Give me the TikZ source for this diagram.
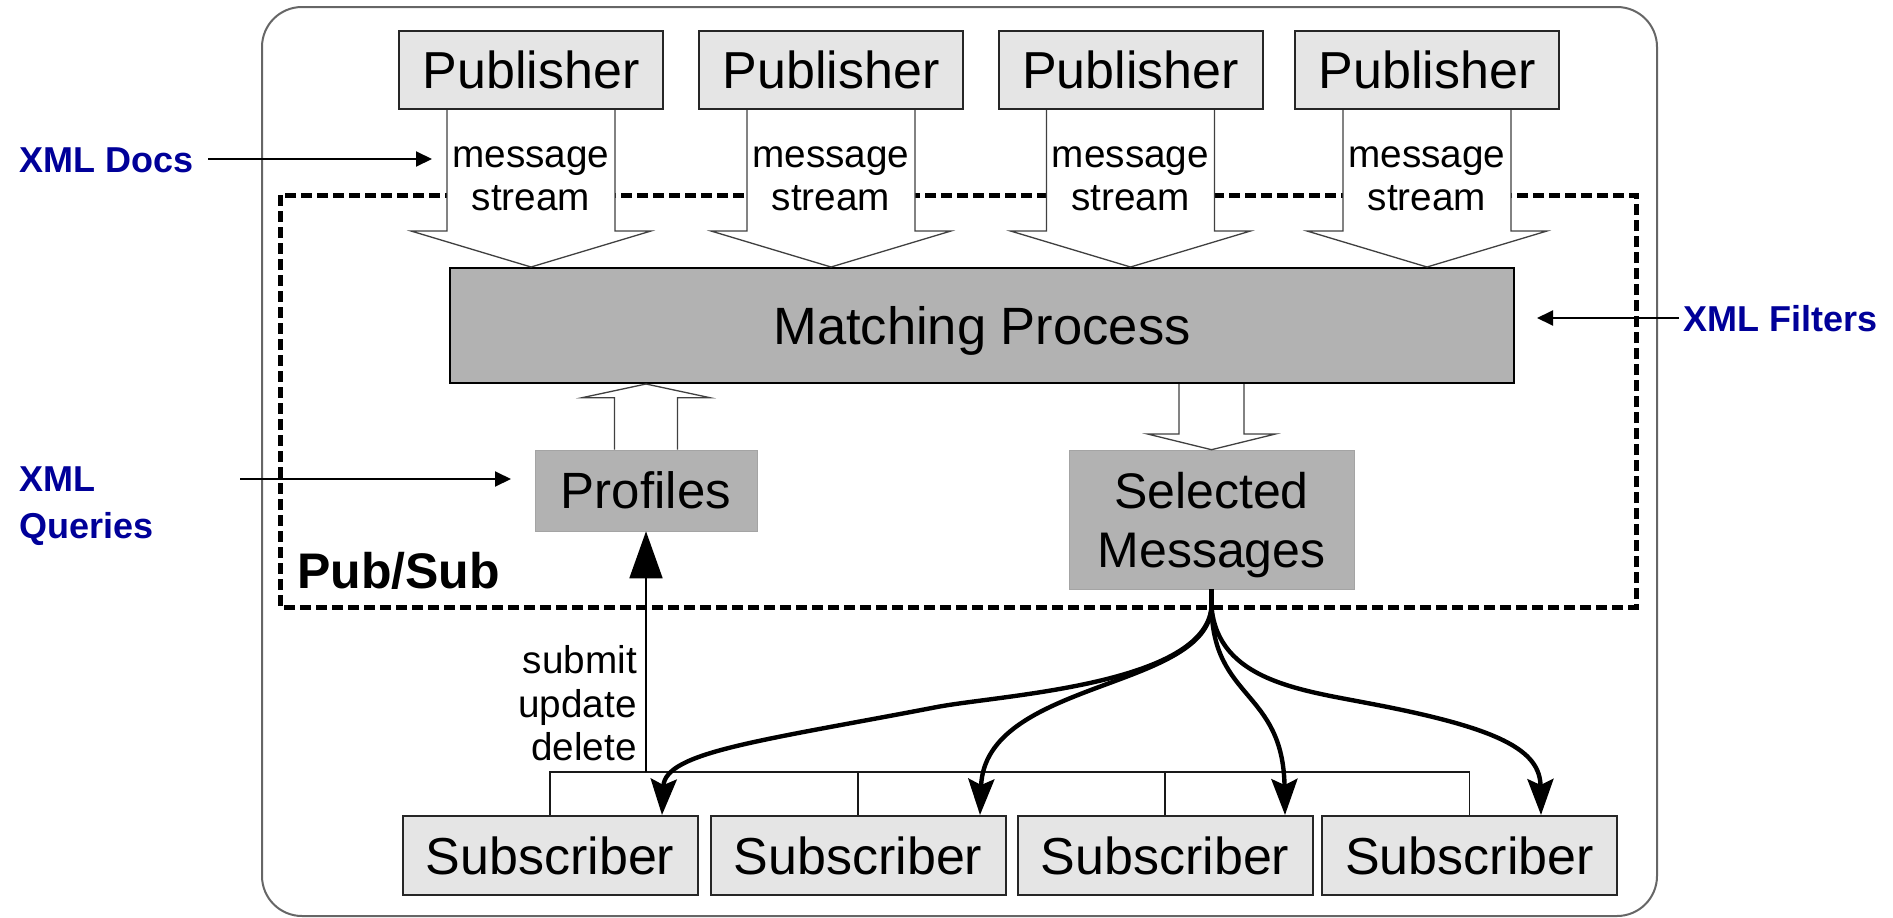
\documentclass[tikz,border=0pt]{standalone}
\usepackage{fontspec}
\setmainfont{Liberation Sans}
\usetikzlibrary{arrows.meta,calc}
\definecolor{xmlblue}{RGB}{0,0,153}
\definecolor{lightbox}{RGB}{229,229,229}
\definecolor{darkbox}{RGB}{178,178,178}
\begin{document}
\begin{tikzpicture}[x=1pt,y=-1pt,
  pubbox/.style={draw=black!85,line width=2pt,fill=lightbox,minimum width=264pt,minimum height=78pt,inner sep=0pt,font=\fontsize{52}{60}\selectfont,text height=37.4pt,text depth=0pt},
  subbox/.style={pubbox,minimum width=295pt,minimum height=79pt},
  graybox/.style={fill=darkbox,draw=darkbox!92!black,line width=0.6pt,inner sep=0pt},
  blockarrow/.style={draw=black!75,line width=1.3pt,fill=white,line join=miter},
  fanarrow/.style={line width=4.4pt,-{Stealth[length=36pt,width=26pt,inset=6pt]}},
  thinline/.style={line width=1.8pt,draw=black!90},
  bluelabel/.style={text=xmlblue,font=\fontsize{36}{47}\selectfont\bfseries,inner sep=0pt,align=left},
  bluearrow/.style={line width=2pt,-{Triangle[length=16pt,width=15pt]}},
  msgtext/.style={font=\fontsize{38.7}{43}\selectfont,inner sep=0pt,anchor=base}
]
\useasboundingbox (0,0) rectangle (1893,918);

% outer frame
\draw[line width=2pt,draw=black!60,rounded corners=40pt] (262,7) rectangle (1657,916);

% pub/sub dashed frame
\draw[line width=5pt,dash pattern=on 11pt off 5pt] (280,195) rectangle (1636,607);

% central boxes
\node[graybox,draw=black,line width=2pt,minimum width=1064pt,minimum height=115pt,
      font=\fontsize{52.5}{60}\selectfont,text height=37.8pt,text depth=0pt] (m) at (982,325.5) {Matching Process};
\node[graybox,minimum width=222pt,minimum height=81pt,
      font=\fontsize{51}{60}\selectfont,text height=36.7pt,text depth=0pt] (pr) at (646,490.5) {Profiles};
\node[graybox,minimum width=285pt,minimum height=139pt,align=center,
      font=\fontsize{50}{59}\selectfont,text depth=0pt] (sel) at (1211.5,519.5) {Selected\\Messages};

% publishers
\node[pubbox] (p1) at (531,70) {Publisher};
\node[pubbox] (p2) at (831,70) {Publisher};
\node[pubbox] (p3) at (1130.5,70) {Publisher};
\node[pubbox] (p4) at (1427,70) {Publisher};

\foreach \i in {1,2,3,4}{
  \draw[blockarrow] ($(p\i.south)+(-84,0)$) -- ($(p\i.south)+(-84,121)$) -- ($(p\i.south)+(-120,121)$)
     -- (p\i.south |- m.north) -- ($(p\i.south)+(120,121)$) -- ($(p\i.south)+(84,121)$) -- ($(p\i.south)+(84,0)$);
  \node[msgtext] (ma\i) at ($(p\i.south)+(0,57)$) {message};
  \node[msgtext] (mb\i) at ($(p\i.south)+(0,100)$) {stream};
}

% profiles -> matching
\draw[blockarrow] ($(pr.north)+(-31.5,0)$) -- ($(pr.north)+(-31.5,-52)$) -- ($(pr.north)+(-64,-52)$)
   -- (pr.north |- m.south) -- ($(pr.north)+(64,-52)$) -- ($(pr.north)+(31.5,-52)$) -- ($(pr.north)+(31.5,0)$);

% matching -> selected
\coordinate (dtop) at (sel.north |- m.south);
\draw[blockarrow] ($(dtop)+(-32.5,0)$) -- ($(dtop)+(-32.5,50)$) -- ($(dtop)+(-64,50)$)
   -- (sel.north) -- ($(dtop)+(64,50)$) -- ($(dtop)+(32.5,50)$) -- ($(dtop)+(32.5,0)$);

% subscribers
\node[subbox] (s1) at (550,855.5) {Subscriber};
\node[subbox] (s2) at (858,855.5) {Subscriber};
\node[subbox] (s3) at (1165,855.5) {Subscriber};
\node[subbox] (s4) at (1469.5,855.5) {Subscriber};

\coordinate (bus) at (0,772);
\draw[thinline] (s1.north) -- (s1.north |- bus) -- (s4.north |- bus) -- (s4.north);
\draw[thinline] (s2.north) -- (s2.north |- bus);
\draw[thinline] (s3.north) -- (s3.north |- bus);
\draw[thinline,draw=black,-{Triangle[length=47pt,width=33pt]}] (pr.south |- bus) -- (pr.south);

\node[msgtext,anchor=base east] (lsub) at (637,673) {submit};
\node[msgtext,anchor=base east] (lupd) at (637,717) {update};
\node[msgtext,anchor=base east] (ldel) at (637,760) {delete};

% fan of deliveries
\coordinate (fanlevel) at (0,607);
\coordinate (fan) at (sel.south |- fanlevel);
\draw[line width=4.4pt] (sel.south) -- (fan);
\coordinate (t1) at ($(s1.north)+(112,0)$);
\coordinate (t2) at ($(s2.north)+(122,0)$);
\coordinate (t3) at ($(s3.north)+(120,0)$);
\coordinate (t4) at ($(s4.north)+(71.5,0)$);
\draw[fanarrow] (fan) .. controls (1205,685) and (1000,695) .. (937,707) .. controls (760,741) and (665,752) .. (t1);
\draw[fanarrow] (fan) .. controls (1208,690) and (985,680) .. (t2);
\draw[fanarrow] (fan) .. controls (1213,700) and (1283,690) .. (t3);
\draw[fanarrow] (fan) .. controls (1218,680) and (1300,690) .. (1367,703) .. controls (1500,728) and (1540,750) .. (t4);

\node[anchor=base west,inner sep=0pt,font=\fontsize{50}{60}\selectfont\bfseries] (ps) at (297,588) {Pub/Sub};

% blue annotations
\node[bluelabel,anchor=base west] (docs) at (19,172) {XML Docs};
\coordinate (docsA) at (208,159);
\coordinate (docsB) at (432,159);
\draw[bluearrow] (docsA) -- (docsB);

\node[bluelabel,anchor=base west] (filters) at (1683,331) {XML Filters};
\coordinate (filA) at (1679,318);
\coordinate (filB) at (1537,318);
\draw[bluearrow] (filA) -- (filB);

\node[bluelabel,anchor=north west] (queries) at (19,467) {XML\\Queries};
\coordinate (qA) at (240,479);
\coordinate (qB) at (511,479);
\draw[bluearrow] (qA) -- (qB);
\end{tikzpicture}
\end{document}
